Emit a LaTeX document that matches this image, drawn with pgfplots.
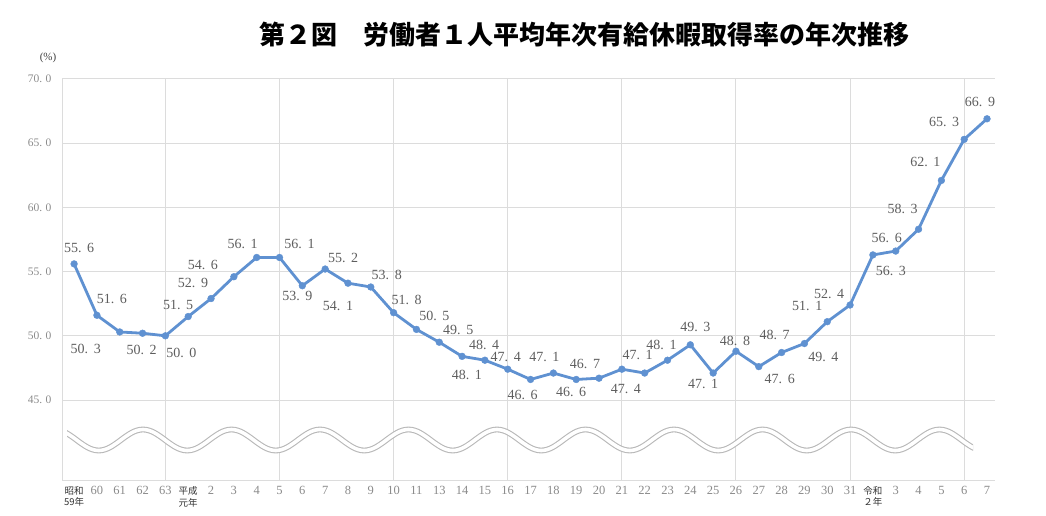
\documentclass[border=0pt]{standalone}
\usepackage{fontspec}
\setmainfont{Liberation Serif}
\newfontfamily\jp{Noto Sans CJK JP}
\usepackage{pgfplots}
\usepackage{pgfplotstable}
\pgfplotsset{compat=1.18}

\definecolor{lineblue}{HTML}{5F91D1}
\definecolor{tickgray}{HTML}{8A8A8A}
\definecolor{labgray}{HTML}{5E5E5E}
\definecolor{gridgray}{HTML}{DCDCDC}
\definecolor{wavegray}{HTML}{B8B8B8}

\newcommand\era[2]{{\jp\fontsize{9.5}{10}\selectfont\color{black!80}\shortstack{#1\\#2}}}

% x = position, y = rate (%), dx/dy = label offset in px (y down)
\pgfplotstableread{
x  y    dx   dy
0  55.6   5  -16
1  51.6  15  -16
2  50.3 -34   17
3  50.2  -1   17
4  50.0  16   17
5  51.5 -10  -12
6  52.9 -18  -16
7  54.6 -31  -12
8  56.1 -14  -14
9  56.1  20  -14
10 53.9  -5   10
11 55.2  18  -11
12 54.1 -10   23
13 53.8  16  -12
14 51.8  13  -13
15 50.5  18  -13
16 49.5  19  -12
17 48.4  22  -11
18 48.1 -18   15
19 47.4  -2  -12
20 46.6  -8   15
21 47.1  -9  -16
22 46.6  -5   12
23 46.7 -14  -14
24 47.4   4   20
25 47.1  -7  -18
26 48.1  -6  -15
27 49.3   5  -18
28 47.1 -10   11
29 48.8  -1  -10
30 47.6  21   12
31 48.7  -7  -18
32 49.4  19   13
33 51.1 -20  -16
34 52.4 -21  -11
35 56.3  18   16
36 56.6  -9  -13
37 58.3 -16  -20
38 62.1 -16  -18
39 65.3 -20  -17
40 66.9  -7  -17
}\rates

\begin{document}
\begin{tikzpicture}
\useasboundingbox (0pt,0pt) rectangle (1046pt,-516pt);

\begin{axis}[
  at={(62pt,-480pt)}, anchor=south west,
  scale only axis, width=933pt, height=401pt,
  xmin=-0.53, xmax=40.35, ymin=38.77, ymax=70,
  clip=false,
  axis x line*=bottom, axis y line*=left,
  axis line style={-, gridgray, line width=1pt},
  ytick={45,50,...,70},
  ymajorgrids,
  xtick={0,...,40},
  minor xtick={4,9,14,19,24,29,34,39},
  xminorgrids,
  grid style={gridgray, line width=1pt},
  minor grid style={gridgray, line width=1pt},
  major tick length=0pt, minor tick length=0pt,
  /pgf/number format/assume math mode=true,
  yticklabel style={text=tickgray, font=\fontsize{11.5}{13}\selectfont, xshift=-7pt,
    /pgf/number format/.cd, fixed, fixed zerofill, precision=1, dec sep={.\hspace{0.3em}}},
  xticklabel style={text=tickgray, font=\fontsize{12.5}{14}\selectfont, inner sep=2pt, yshift=-4pt},
  xticklabels={{\era{昭和}{59年}},60,61,62,63,{\era{平成}{元年}},2,3,4,5,6,7,8,9,10,11,
    13,14,15,16,17,18,19,20,21,22,23,24,25,26,27,28,29,30,31,{\era{令和}{２年}},3,4,5,6,7},
]
\addplot[lineblue, line width=2.8pt, mark=*, mark size=3.4pt,
  mark options={fill=lineblue, draw=lineblue, line width=0.4pt}]
  table[x=x, y=y] {\rates};
\addplot[draw=none, mark=none,
  point meta=\thisrow{y},
  visualization depends on={\thisrow{dx} \as \dx},
  visualization depends on={\thisrow{dy} \as \dy},
  nodes near coords={\pgfmathprintnumber[fixed, fixed zerofill, precision=1, dec sep={.\hspace{0.4em}}]{\pgfplotspointmeta}},
  every node near coord/.append style={anchor=center, xshift=\dx pt, yshift=-\dy pt,
    text=labgray, font=\fontsize{14}{16}\selectfont, inner sep=0pt}]
  table[x=x, y=y] {\rates};
\end{axis}

\begin{scope}[x=1pt, y=-1pt]
  \node[font=\jp\bfseries\fontsize{26}{28}\selectfont] at (584,35)
    {第２図　労働者１人平均年次有給休暇取得率の年次推移};
  \node[font=\fontsize{11}{12}\selectfont, text=black!75] at (48,58) {(\%)};
  \begin{scope}
    \clip (67,400) rectangle (973,470);
    \draw[wavegray, line width=1.1pt, double=white, double distance=3.6pt]
      (54.5,429.5) \foreach \k in {0,...,10} {
        cos ++(22.125,10.5) sin ++(22.125,10.5) cos ++(22.125,-10.5) sin ++(22.125,-10.5)};
  \end{scope}
\end{scope}
\end{tikzpicture}
\end{document}
